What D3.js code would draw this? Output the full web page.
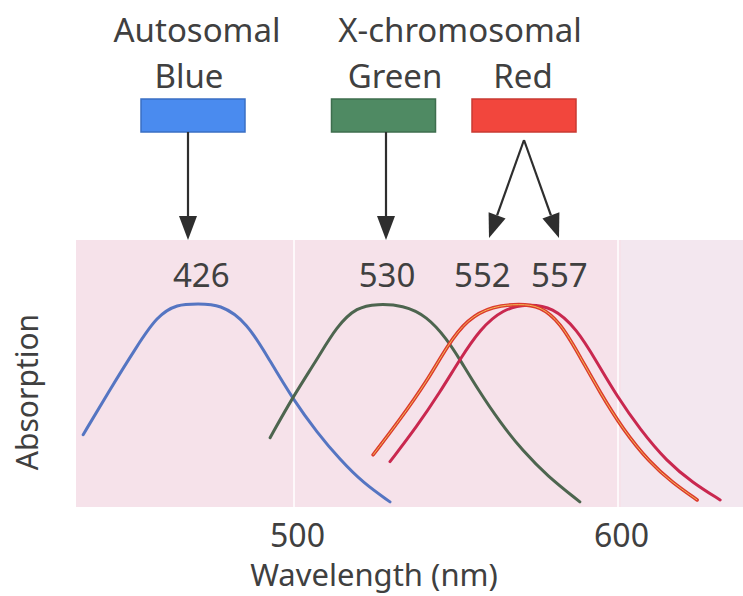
<!DOCTYPE html>
<html>
<head>
<meta charset="utf-8">
<script src="https://cdn.jsdelivr.net/npm/d3@7"></script>
<style>
  html, body { margin: 0; padding: 0; background: #ffffff; }
  svg { display: block; }
  text { font-family: "Noto Sans", "Open Sans", sans-serif; fill: #404040; }
</style>
</head>
<body>
<svg id="chart" width="743" height="596"></svg>
<script>
// ---- data (wavelength in nm, relative absorption 0..1) ----
const blueCurve = [
  [434.0, 0.395], [442.3, 0.605], [450.6, 0.805], [456.8, 0.944], [463.0, 1.0],
  [469.4, 1.0], [476.2, 1.0], [484.6, 0.916], [491.7, 0.735], [498.8, 0.558],
  [506.2, 0.405], [513.3, 0.279], [520.4, 0.172], [528.7, 0.084]
];
const greenCurve = [
  [491.7, 0.381], [498.8, 0.572], [506.2, 0.744], [512.3, 0.898], [518.5, 0.986],
  [524.7, 1.0], [532.7, 0.995], [540.1, 0.944], [546.3, 0.837], [550.4, 0.740],
  [555.6, 0.610], [562.7, 0.451], [569.8, 0.318], [577.2, 0.205], [587.3, 0.084]
];
const red552Curve = [
  [523.5, 0.302], [531.8, 0.465], [540.1, 0.642], [546.3, 0.805], [552.5, 0.930],
  [560.5, 0.991], [568.8, 1.0], [575.0, 0.991], [581.2, 0.916], [587.3, 0.758],
  [593.5, 0.591], [600.6, 0.419], [608.9, 0.265], [616.0, 0.172], [623.5, 0.093]
];
const red557Curve = [
  [528.7, 0.270], [537.0, 0.433], [544.1, 0.591], [550.3, 0.744], [556.5, 0.884],
  [563.6, 0.977], [571.0, 1.0], [579.0, 0.986], [586.4, 0.884], [592.6, 0.730],
  [598.8, 0.572], [605.9, 0.419], [614.2, 0.270], [622.2, 0.172], [630.6, 0.093]
];
const peakLabels = ["426", "530", "552", "557"];
const pigmentGroups = ["Autosomal", "X-chromosomal"];
const pigmentNames = ["Blue", "Green", "Red"];
const xTicks = [500, 600];
const xAxisTitle = "Wavelength (nm)";
const yAxisTitle = "Absorption";

// ---- layout ----
const svg = d3.select("#chart");
const panel = { left: 76, right: 743, top: 240, bottom: 507 };
const x = d3.scaleLinear().domain([500, 600]).range([297, 621]);
const y = d3.scaleLinear().domain([0, 1]).range([520, 304]);

// background panel
svg.append("rect")
  .attr("x", panel.left).attr("y", panel.top)
  .attr("width", panel.right - panel.left).attr("height", panel.bottom - panel.top)
  .attr("fill", "#f6e2ea");
svg.append("rect")
  .attr("x", x(600)).attr("y", panel.top)
  .attr("width", panel.right - x(600)).attr("height", panel.bottom - panel.top)
  .attr("fill", "#f3e7ef");

// faint white separators near tick positions
svg.selectAll("line.grid").data(xTicks).enter().append("line")
  .attr("class", "grid")
  .attr("x1", d => x(d) - 3).attr("x2", d => x(d) - 3)
  .attr("y1", panel.top).attr("y2", panel.bottom)
  .attr("stroke", "#ffffff").attr("stroke-opacity", 0.75).attr("stroke-width", 2);

// x axis (labels only)
const xAxis = d3.axisBottom(x).tickValues(xTicks).tickSize(0).tickPadding(0).tickFormat(d3.format("d"));
const gx = svg.append("g").attr("transform", "translate(0,523)").call(xAxis);
gx.select(".domain").remove();
gx.selectAll("text")
  .attr("dy", "0.74em")
  .style("font-size", "32px")
  .style("font-family", "'Noto Sans', sans-serif")
  .attr("fill", "#404040");

svg.append("text").attr("x", 374).attr("y", 586)
  .attr("text-anchor", "middle").style("font-size", "31px").text(xAxisTitle);
svg.append("text")
  .attr("transform", "translate(38,392) rotate(-90)")
  .attr("text-anchor", "middle").style("font-size", "30px").text(yAxisTitle);

// curves
const line = d3.line().x(d => x(d[0])).y(d => y(d[1])).curve(d3.curveBasis);
const curves = [
  { data: blueCurve, stroke: "#5575c2", w: 3 },
  { data: greenCurve, stroke: "#4d654f", w: 3 },
  { data: red557Curve, stroke: "#c9284f", w: 3 },
  { data: red552Curve, stroke: "#dc3a2e", w: 3.6 },
];
curves.forEach(c => {
  svg.append("path").datum(c.data).attr("d", line)
    .attr("fill", "none").attr("stroke", c.stroke).attr("stroke-width", c.w)
    .attr("stroke-linecap", "round").attr("stroke-linejoin", "round");
});
svg.append("path").datum(red552Curve).attr("d", line)
  .attr("fill", "none").attr("stroke", "#f2bb55").attr("stroke-width", 1);

// peak labels: centred over the flat top of each curve
const peakX = c => {
  const m = d3.max(c, d => d[1]);
  return x(d3.mean(c.filter(d => d[1] >= m - 0.01), d => d[0]));
};
const redMid = (peakX(red552Curve) + peakX(red557Curve)) / 2;
const labelPos = [peakX(blueCurve) + 3, peakX(greenCurve) - 3, redMid - 40, redMid + 37];
svg.selectAll("text.peak").data(peakLabels).enter().append("text")
  .attr("class", "peak")
  .attr("x", (d, i) => labelPos[i]).attr("y", 287)
  .attr("text-anchor", "middle").style("font-size", "33px").text(d => d);

// legend header texts
svg.append("text").attr("x", 197).attr("y", 42).attr("text-anchor", "middle")
  .style("font-size", "33px").text(pigmentGroups[0]);
svg.append("text").attr("x", 460).attr("y", 42).attr("text-anchor", "middle")
  .style("font-size", "33px").text(pigmentGroups[1]);

const boxes = [
  { name: pigmentNames[0], tx: 189, cx: 193, fill: "#4a8bef", stroke: "#3a6fc4" },
  { name: pigmentNames[1], tx: 395, cx: 383.5, fill: "#4f8a63", stroke: "#3e6e4e" },
  { name: pigmentNames[2], tx: 523, cx: 524, fill: "#f2463d", stroke: "#c93a32" },
];
boxes.forEach(b => {
  svg.append("text").attr("x", b.tx).attr("y", 88).attr("text-anchor", "middle")
    .style("font-size", "33px").text(b.name);
  svg.append("rect").attr("x", b.cx - 52).attr("y", 99).attr("width", 104).attr("height", 33)
    .attr("fill", b.fill).attr("stroke", b.stroke).attr("stroke-width", 1.5);
});

// arrows
function arrow(x1, y1, x2, y2) {
  const ang = Math.atan2(y2 - y1, x2 - x1);
  const len = 24, half = 9;
  const bx = x2 - len * Math.cos(ang), by = y2 - len * Math.sin(ang);
  svg.append("line").attr("x1", x1).attr("y1", y1).attr("x2", bx).attr("y2", by)
    .attr("stroke", "#2e2e2e").attr("stroke-width", 2.2);
  const px = -Math.sin(ang) * half, py = Math.cos(ang) * half;
  svg.append("path")
    .attr("d", `M${x2},${y2} L${bx + px},${by + py} L${bx - px},${by - py} Z`)
    .attr("fill", "#2e2e2e");
}
arrow(188, 132, 188, 240);
arrow(386, 132, 386, 240);
arrow(524, 140, 489, 238);
arrow(524, 140, 559, 238);
</script>
</body>
</html>
